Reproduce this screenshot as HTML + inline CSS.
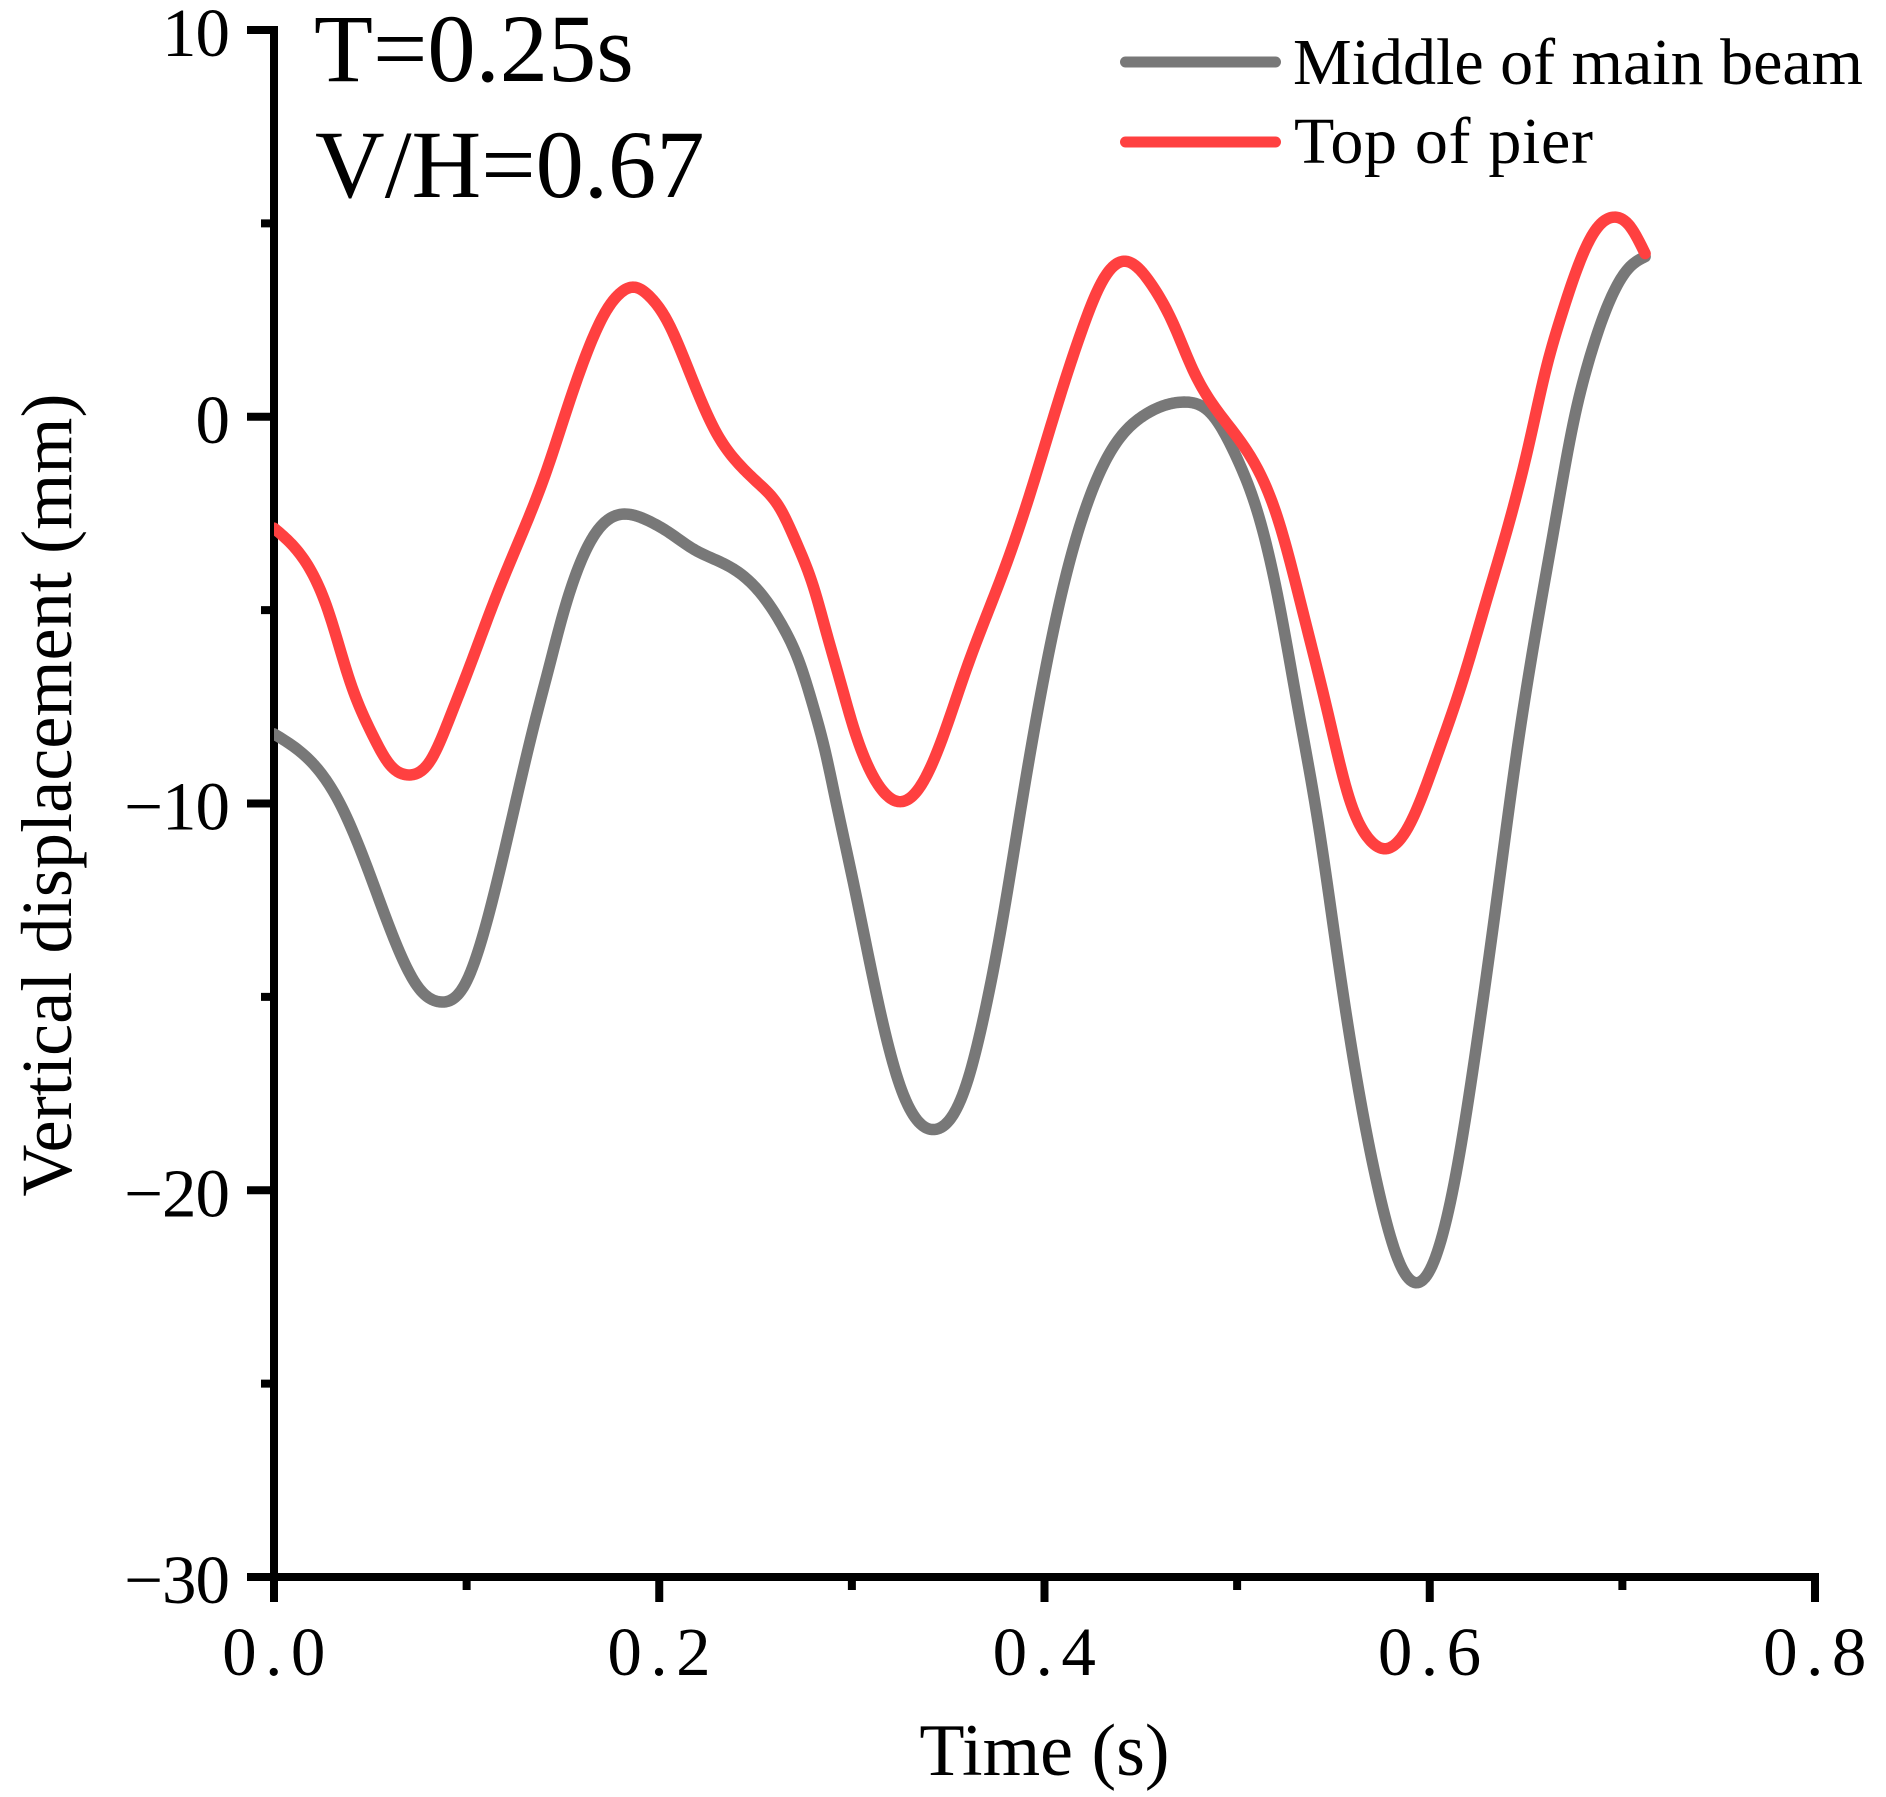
<!DOCTYPE html>
<html lang="en">
<head>
<meta charset="utf-8">
<title>Vertical displacement vs time</title>
<style>
html,body{margin:0;padding:0;background:#fff;}
svg{display:block;}
text{font-family:"Liberation Serif",serif;fill:#000;}
</style>
</head>
<body>
<svg id="chart" xmlns="http://www.w3.org/2000/svg" width="1886" height="1797" viewBox="0 0 1886 1797">
  <defs>
    <clipPath id="plot-clip"><rect x="274" y="0" width="1612" height="1797"/></clipPath>
  </defs>
  <rect x="0" y="0" width="1886" height="1797" fill="#ffffff"/>
  <g id="axes"></g>
  <g id="series" clip-path="url(#plot-clip)"></g>
  <text x="314" y="81" font-size="96.5">T=0.25s</text>
  <text x="315" y="197" font-size="96.5">V/H=0.67</text>
  <line x1="1125.5" y1="62" x2="1275.5" y2="62" stroke="#787878" stroke-width="11" stroke-linecap="round"/>
  <text x="1293" y="84" font-size="66">Middle of main beam</text>
  <line x1="1125.5" y1="142" x2="1275.5" y2="142" stroke="#ff4040" stroke-width="11" stroke-linecap="round"/>
  <text x="1294" y="163" font-size="66" textLength="299" lengthAdjust="spacing">Top of pier</text>
  <text x="1044.5" y="1775" font-size="74" text-anchor="middle">Time (s)</text>
  <text transform="translate(71,795) rotate(-90)" font-size="72" text-anchor="middle" textLength="803" lengthAdjust="spacing">Vertical displacement (mm)</text>
</svg>
<script>
const xTickValues = [0, 0.2, 0.4, 0.6, 0.8];
const xTickLabels = ["0.0", "0.2", "0.4", "0.6", "0.8"];
const xMinorTickValues = [0.1, 0.3, 0.5, 0.7];
const yTickValues = [10, 0, -10, -20, -30];
const yTickLabels = ["10", "0", "\u221210", "\u221220", "\u221230"];
const yMinorTickValues = [5, -5, -15, -25];

const redTime = [0,.0166,.028,.0395,.0514,.0602,.0693,.0812,.0915,.1009,.1156,.1303,.1416,.1519,.1623,.1727,.1796,.1871,.1952,.2039,.2125,.2212,.2298,.2402,.2523,.2627,.2713,.28,.2869,.2938,.3007,.3077,.3163,.3241,.3336,.344,.3527,.3596,.3806,.3939,.4071,.4203,.4294,.4422,.4558,.4668,.4771,.4865,.5078,.5209,.5342,.5473,.5581,.5685,.577,.59,.603,.6163,.6295,.6425,.652,.6607,.6676,.6763,.6849,.6953,.704,.7118];
const redValues = [-2.88,-3.77,-5,-6.85,-8.25,-9,-9.26,-8.89,-7.75,-6.55,-4.61,-2.84,-1.38,.17,1.64,2.76,3.19,3.35,3.1,2.5,1.55,.48,-.43,-1.16,-1.76,-2.37,-3.27,-4.39,-5.6,-6.81,-8.01,-8.96,-9.69,-9.95,-9.69,-8.7,-7.5,-6.5,-3.75,-1.77,.38,2.36,3.45,4.02,3.4,2.41,1.21,.38,-1.1,-2.6,-5.06,-7.7,-9.85,-10.92,-11.17,-10.5,-8.87,-6.95,-4.74,-2.5,-.6,1.3,2.5,3.8,4.74,5.16,4.92,4.22];
const grayTime = [0,.0187,.0336,.0485,.0633,.0753,.0862,.0992,.1111,.123,.135,.1424,.1502,.1589,.1675,.1762,.1839,.1935,.2056,.2177,.2315,.2402,.254,.2644,.2731,.28,.286,.2912,.3016,.3136,.325,.3427,.3594,.3687,.3779,.3885,.3991,.4097,.4229,.4362,.4521,.4725,.4865,.4997,.5103,.5209,.5315,.5421,.5527,.5632,.5738,.5844,.5937,.603,.6136,.6242,.6348,.6454,.656,.6659,.6745,.6832,.6936,.704,.7118];
const grayValues = [-8.2,-8.89,-9.94,-11.67,-13.62,-14.78,-15.13,-14.67,-12.94,-10.5,-7.97,-6.55,-5.08,-3.79,-2.97,-2.58,-2.52,-2.67,-3.01,-3.42,-3.75,-3.99,-4.65,-5.45,-6.4,-7.5,-8.62,-9.82,-12.24,-15.13,-17.3,-18.43,-17.27,-15.46,-13.1,-9.9,-6.9,-4.4,-2.15,-.75,.05,.38,.08,-1.05,-2.42,-4.6,-7.5,-10.51,-14.14,-17.44,-20.08,-21.89,-22.39,-21.73,-19.58,-16.28,-12.49,-8.6,-5.3,-2.5,-.17,1.55,3.02,3.88,4.14];

const SVGNS = "http://www.w3.org/2000/svg";
function xScale(t) { return 274 + (t / 0.8) * 1541; }
function yScale(v) { return 416.75 - v * 38.675; }

function splineSecondDerivatives(xs, ys) {
  const n = xs.length;
  const m = new Array(n).fill(0);
  const u = new Array(n).fill(0);
  for (let i = 1; i < n - 1; i++) {
    const sig = (xs[i] - xs[i - 1]) / (xs[i + 1] - xs[i - 1]);
    const p = sig * m[i - 1] + 2;
    m[i] = (sig - 1) / p;
    const d = (ys[i + 1] - ys[i]) / (xs[i + 1] - xs[i]) - (ys[i] - ys[i - 1]) / (xs[i] - xs[i - 1]);
    u[i] = (6 * d / (xs[i + 1] - xs[i - 1]) - sig * u[i - 1]) / p;
  }
  for (let k = n - 2; k >= 0; k--) {
    m[k] = m[k] * m[k + 1] + u[k];
  }
  return m;
}

function buildPath(ts, vs) {
  const m = splineSecondDerivatives(ts, vs);
  let d = "M" + xScale(ts[0]).toFixed(2) + " " + yScale(vs[0]).toFixed(2);
  for (let i = 0; i < ts.length - 1; i++) {
    const h = ts[i + 1] - ts[i];
    const steps = Math.max(2, Math.ceil(h / 0.001));
    for (let s = 1; s <= steps; s++) {
      const b = s / steps, a = 1 - b;
      const t = ts[i] + b * h;
      const v = a * vs[i] + b * vs[i + 1] + ((a * a * a - a) * m[i] + (b * b * b - b) * m[i + 1]) * h * h / 6;
      d += "L" + xScale(t).toFixed(2) + " " + yScale(v).toFixed(2);
    }
  }
  return d;
}

const axes = document.getElementById("axes");
const series = document.getElementById("series");

function makeLine(x1, y1, x2, y2, w) {
  const l = document.createElementNS(SVGNS, "line");
  l.setAttribute("x1", x1);
  l.setAttribute("y1", y1);
  l.setAttribute("x2", x2);
  l.setAttribute("y2", y2);
  l.setAttribute("stroke", "#000");
  l.setAttribute("stroke-width", w);
  return l;
}

const yAxisLine = makeLine(274, 26, 274, 1581, 8);


axes.appendChild(yAxisLine);

const xAxisLine = makeLine(247, yScale(-30), 1819, yScale(-30), 8);


axes.appendChild(xAxisLine);

yTickValues.forEach(function (v, i) {
  const tick = makeLine(247, yScale(v), 274, yScale(v), 8);
  
  
  axes.appendChild(tick);
  const label = document.createElementNS(SVGNS, "text");
  label.setAttribute("x", 229);
  label.setAttribute("y", yScale(v) + 26);
  label.setAttribute("font-size", 69);
  label.setAttribute("text-anchor", "end");
  label.setAttribute("letter-spacing", -1);
  
  
  label.textContent = yTickLabels[i];
  axes.appendChild(label);
});

yMinorTickValues.forEach(function (v) {
  const tick = makeLine(261, yScale(v), 274, yScale(v), 8);
  
  
  axes.appendChild(tick);
});

xTickValues.forEach(function (t, i) {
  const tick = makeLine(xScale(t), yScale(-30), xScale(t), 1602, 8);
  
  
  axes.appendChild(tick);
  const label = document.createElementNS(SVGNS, "text");
  label.setAttribute("x", xScale(t) + 4);
  label.setAttribute("y", 1675);
  label.setAttribute("font-size", 69);
  label.setAttribute("text-anchor", "middle");
  label.setAttribute("letter-spacing", 8.5);
  
  
  label.textContent = xTickLabels[i];
  axes.appendChild(label);
});

xMinorTickValues.forEach(function (t) {
  const tick = makeLine(xScale(t), yScale(-30), xScale(t), 1590, 8);
  
  
  axes.appendChild(tick);
});

const grayPath = document.createElementNS(SVGNS, "path");
grayPath.setAttribute("d", buildPath(grayTime, grayValues));
grayPath.setAttribute("fill", "none");
grayPath.setAttribute("stroke", "#787878");
grayPath.setAttribute("stroke-width", 11.5);
grayPath.setAttribute("stroke-linejoin", "round");
grayPath.setAttribute("stroke-linecap", "round");


series.appendChild(grayPath);

const redPath = document.createElementNS(SVGNS, "path");
redPath.setAttribute("d", buildPath(redTime, redValues));
redPath.setAttribute("fill", "none");
redPath.setAttribute("stroke", "#ff4040");
redPath.setAttribute("stroke-width", 11.5);
redPath.setAttribute("stroke-linejoin", "round");
redPath.setAttribute("stroke-linecap", "round");


series.appendChild(redPath);
</script>
</body>
</html>
